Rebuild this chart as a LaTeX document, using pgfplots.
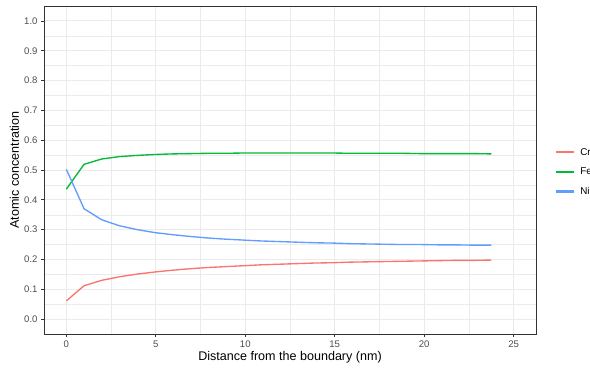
\documentclass[border=0pt]{standalone}
\usepackage{fontspec}
\setmainfont{Liberation Sans}
\usepackage{pgfplots}
\pgfplotsset{compat=1.18}
\definecolor{crc}{HTML}{F8766D}
\definecolor{fec}{HTML}{00BA38}
\definecolor{nic}{HTML}{619CFF}
\definecolor{grey92}{HTML}{EBEBEB}
\definecolor{grey20}{HTML}{333333}
\definecolor{grey30}{HTML}{4D4D4D}
\pgfplotstableread{
x Cr Fe Ni
0.00 0.061 0.436 0.502
0.99 0.112 0.519 0.370
1.98 0.130 0.537 0.333
2.97 0.142 0.545 0.313
3.96 0.151 0.549 0.300
4.95 0.158 0.552 0.290
5.94 0.164 0.554 0.283
6.93 0.169 0.555 0.277
7.92 0.173 0.556 0.272
8.91 0.176 0.556 0.268
9.90 0.179 0.557 0.265
10.89 0.182 0.557 0.262
11.88 0.184 0.557 0.260
12.87 0.186 0.557 0.258
13.86 0.188 0.557 0.256
14.85 0.189 0.557 0.255
15.84 0.191 0.556 0.253
16.83 0.192 0.556 0.252
17.82 0.193 0.556 0.251
18.81 0.194 0.556 0.250
19.80 0.195 0.555 0.250
20.79 0.196 0.555 0.249
21.78 0.197 0.555 0.249
22.77 0.197 0.555 0.248
23.76 0.198 0.554 0.248
}\data
\begin{document}
\begin{tikzpicture}[x=1bp,y=1bp]
\useasboundingbox (0,0) rectangle (590,370);
\begin{axis}[
  at={(44bp,36bp)}, anchor=south west,
  scale only axis, width=492bp, height=328bp,
  xmin=-1.25, xmax=26.25, ymin=-0.05, ymax=1.05,
  xtick={0,5,10,15,20,25},
  ytick={0,0.1,0.2,0.3,0.4,0.5,0.6,0.7,0.8,0.9,1.0},
  minor xtick={2.5,7.5,12.5,17.5,22.5},
  minor ytick={0.05,0.15,0.25,0.35,0.45,0.55,0.65,0.75,0.85,0.95},
  grid=both,
  major grid style={color=grey92, line width=0.9bp},
  minor grid style={color=grey92, line width=0.45bp},
  axis line style={grey20, line width=0.8bp},
  tick align=outside, tick pos=left,
  major tick length=3bp, minor tick length=0bp,
  every tick/.style={grey20, line width=0.8bp},
  yticklabel style={/pgf/number format/fixed, /pgf/number format/fixed zerofill, /pgf/number format/precision=1},
  ticklabel style={font=\fontsize{9.6}{10}\selectfont, color=grey30},
  /pgf/number format/assume math mode=true,
  xlabel={Distance from the boundary (nm)},
  ylabel={Atomic concentration},
  label style={font=\fontsize{12.6}{13}\selectfont},
  xlabel style={at={(axis description cs:0.5,-0.072)}, anchor=center},
  ylabel style={at={(axis description cs:-0.06,0.5)}, anchor=center, rotate=0},
  legend style={at={(axis description cs:1.041,0.495)}, anchor=west, draw=white, fill=white,
    font=\fontsize{9.9}{10}\selectfont, row sep=10.8bp, column sep=6bp, inner sep=0pt,
    nodes={inner sep=1bp, text depth=0pt}},
  legend cell align=left,
  legend image code/.code={\fill[#1] (0bp,-0.75bp) rectangle (16.5bp,0.75bp);},
  clip=false,
]
\addplot[crc, line width=1.35bp, forget plot] table[x=x, y=Cr] {\data};
\addplot[fec, line width=1.35bp, forget plot] table[x=x, y=Fe] {\data};
\addplot[nic, line width=1.35bp, forget plot] table[x=x, y=Ni] {\data};
\addlegendimage{color=crc, fill=crc}
\addlegendentry{Cr}
\addlegendimage{color=fec, fill=fec}
\addlegendentry{Fe}
\addlegendimage{color=nic, fill=nic}
\addlegendentry{Ni}
\end{axis}
\end{tikzpicture}
\end{document}
